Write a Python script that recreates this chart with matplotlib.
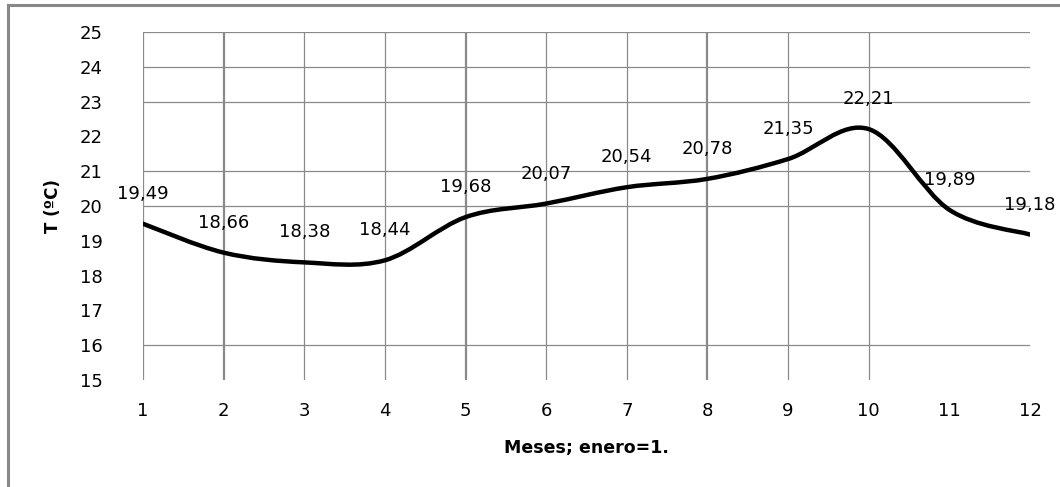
import numpy as np
import matplotlib
matplotlib.use('Agg')
import matplotlib.pyplot as plt
from matplotlib.path import Path
from matplotlib.patches import PathPatch
from matplotlib.lines import Line2D

# Monthly mean temperature (month 1 = January)
months = [1, 2, 3, 4, 5, 6, 7, 8, 9, 10, 11, 12]
temps = [19.49, 18.66, 18.38, 18.44, 19.68, 20.07, 20.54, 20.78, 21.35, 22.21, 19.89, 19.18]
point_labels = ['19,49', '18,66', '18,38', '18,44', '19,68', '20,07',
                '20,54', '20,78', '21,35', '22,21', '19,89', '19,18']

# Gridlines as they appear in the original figure
hgrid = [16, 20, 21, 23, 24, 25]
vgrid = [1, 3, 4, 6, 7, 9, 10]
vgrid_bold = [2, 5, 8]
yticks = list(range(15, 26))

W, H = 1060, 487
fig = plt.figure(figsize=(W / 100, H / 100), dpi=100)
ax = fig.add_axes([143 / W, (H - 380) / H, (1030 - 143) / W, (380 - 32) / H])

for y in hgrid:
    ax.plot([1, 12], [y, y], color='#8a8a8a', lw=0.9, zorder=1)
for x in vgrid:
    ax.plot([x, x], [15, 25], color='#8a8a8a', lw=0.9, zorder=1)
for x in vgrid_bold:
    ax.plot([x, x], [15, 25], color='#8a8a8a', lw=1.6, zorder=1)

# smoothed line (Excel style): cubic Bezier segments through the data points
pts = np.column_stack([months, temps]).astype(float)
ext = np.vstack([pts[0], pts, pts[-1]])
verts = [tuple(pts[0])]
codes = [Path.MOVETO]
for i in range(len(pts) - 1):
    p0, p1, p2, p3 = ext[i], ext[i + 1], ext[i + 2], ext[i + 3]
    c1 = p1 + (p2 - p0) / 6
    c2 = p2 - (p3 - p1) / 6
    verts += [tuple(c1), tuple(c2), tuple(p2)]
    codes += [Path.CURVE4] * 3
ax.add_patch(PathPatch(Path(verts, codes), facecolor='none', edgecolor='black',
                       lw=3.2, capstyle='round', joinstyle='round', zorder=3))

for x, y, s in zip(months, temps, point_labels):
    ax.annotate(s, (x, y), xytext=(0, 21.6), textcoords='offset points',
                ha='center', va='center', fontsize=13, zorder=4)

ax.set_xlim(1, 12)
ax.set_ylim(15, 25)
ax.set_xticks(months)
ax.set_yticks(yticks)
ax.tick_params(length=0, labelsize=13)
ax.tick_params(axis='y', pad=29)
ax.tick_params(axis='x', pad=16)
for sp in ax.spines.values():
    sp.set_visible(False)

ax.set_xlabel('Meses; enero=1.', fontsize=12.5, fontweight='bold')
ax.set_ylabel('T (ºC)', fontsize=12, fontweight='bold')
ax.xaxis.set_label_coords(0.5, -0.195)
ax.xaxis.label.set_va('center')
ax.yaxis.set_label_coords(-0.1015, 0.5)
ax.yaxis.label.set_va('center')

# outer chart frame (cut at right and bottom edges)
fig.add_artist(Line2D([7.5 / W, 1.0], [1 - 5 / H, 1 - 5 / H], color='#888888', lw=2.2,
                      transform=fig.transFigure))
fig.add_artist(Line2D([7.5 / W, 7.5 / W], [0.0, 1 - 5 / H], color='#888888', lw=2.2,
                      transform=fig.transFigure))

fig.savefig('out.png', dpi=100)
